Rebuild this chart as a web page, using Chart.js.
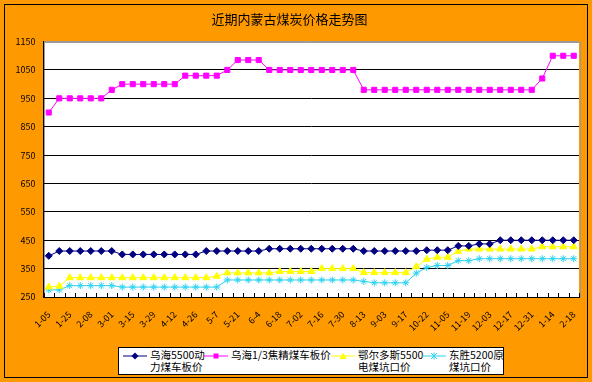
<!DOCTYPE html>
<html><head><meta charset="utf-8">
<script src="https://cdn.jsdelivr.net/npm/chart.js@4.4.1/dist/chart.umd.min.js"></script>
<style>
html,body{margin:0;padding:0;background:#FF9900;}
#wrap{position:relative;width:592px;height:382px;background:#FF9900;overflow:hidden;}
#c{position:absolute;left:0;top:0;}
#frame{position:absolute;left:4px;top:4px;width:584px;height:374px;border:1px solid #000;box-sizing:border-box;pointer-events:none;}
#legend{position:absolute;left:118px;top:347px;width:386px;height:28px;background:#fff;border:1px solid #000;box-sizing:border-box;font-family:"Noto Sans CJK SC","DejaVu Sans",sans-serif;font-size:10.5px;line-height:12px;color:#000;}
#legend svg{position:absolute;top:3px;}
#legend .t{position:absolute;top:1px;white-space:nowrap;}
</style></head>
<body><div id="wrap">
<canvas id="c" width="592" height="382"></canvas>
<div id="frame"></div>
<div id="legend">
 <svg style="left:4px" width="24" height="10"><line x1="0" y1="5" x2="24" y2="5" stroke="#000080" stroke-width="1"/><polygon points="12,1.5 15.5,5 12,8.5 8.5,5" fill="#000080"/></svg>
 <div class="t" style="left:31px">乌海5500动<br>力煤车板价</div>
 <svg style="left:85px" width="24" height="10"><line x1="0" y1="5" x2="24" y2="5" stroke="#FF00FF" stroke-width="1"/><rect x="9.5" y="2.5" width="5" height="5" fill="#FF00FF"/></svg>
 <div class="t" style="left:112px">乌海1/3焦精煤车板价</div>
 <svg style="left:212px" width="24" height="10"><line x1="0" y1="5" x2="24" y2="5" stroke="#FFFF00" stroke-width="1"/><polygon points="12,1.5 15.5,8 8.5,8" fill="#FFFF00"/></svg>
 <div class="t" style="left:239px">鄂尔多斯5500<br>电煤坑口价</div>
 <svg style="left:303px" width="24" height="10"><line x1="0" y1="5" x2="24" y2="5" stroke="#2ED3F0" stroke-width="1"/><path d="M9,2 L15,8 M15,2 L9,8 M12,1.5 L12,8.5" stroke="#2ED3F0" stroke-width="1"/></svg>
 <div class="t" style="left:330px">东胜5200原<br>煤坑口价</div>
</div>
</div>
<script>
const tickLabels = ["1-05","1-25","2-08","3-01","3-15","3-29","4-12","4-26","5-7","5-21","6-4","6-18","7-02","7-16","7-30","8-13","9-03","9-17","10-22","11-05","11-19","12-03","12-17","12-31","1-14","2-18"];

const wuhai5500 = [395,412,412,412,412,412,412,400,400,400,400,400,400,400,400,412,412,412,412,412,412,420,420,420,420,420,420,420,420,420,412,412,412,412,412,412,415,415,415,430,430,437,437,450,450,450,450,450,450,450,450];
const wuhaiCoking = [900,950,950,950,950,950,980,1000,1000,1000,1000,1000,1000,1030,1030,1030,1030,1050,1085,1085,1085,1050,1050,1050,1050,1050,1050,1050,1050,1050,980,980,980,980,980,980,980,980,980,980,980,980,980,980,980,980,980,1020,1100,1100,1100];
const ordos5500 = [285,288,318,318,318,318,318,318,318,318,318,318,318,318,318,318,323,335,335,335,335,335,340,340,340,340,350,350,350,350,336,336,336,336,336,357,383,390,390,411,419,419,419,419,419,419,419,427,427,427,427];
const dongsheng5200 = [275,275,290,290,290,290,290,285,285,285,285,285,285,285,285,285,285,310,310,310,310,310,310,310,310,310,310,310,310,310,305,300,300,300,300,334,354,361,361,378,378,385,385,385,385,385,385,385,385,385,385];

const seriesNames = ["乌海5500动力煤车板价","乌海1/3焦精煤车板价","鄂尔多斯5500电煤坑口价","东胜5200原煤坑口价"];

// categories: a labelled date every second week
const categories = [];
tickLabels.forEach((t,i)=>{ if(i>0) categories.push(""); categories.push(t); });

const F = '"Noto Sans CJK SC","DejaVu Sans",sans-serif';

const plotBg = {
  id:'plotBg',
  beforeDraw(chart){
    const {ctx, chartArea:a} = chart;
    ctx.save();
    ctx.fillStyle = '#FFFFFF';
    ctx.fillRect(a.left, a.top, a.right-a.left, a.bottom-a.top);
    ctx.strokeStyle = '#9a9a9a';
    ctx.lineWidth = 1;
    ctx.strokeRect(Math.round(a.left)+0.5, Math.round(a.top)+0.5, Math.round(a.right-a.left), Math.round(a.bottom-a.top));
    ctx.restore();
  },
  afterDraw(chart){
    const {ctx, chartArea:a} = chart;
    const xs = chart.scales.x;
    const n = categories.length;
    const step = (xs.getPixelForValue(1) - xs.getPixelForValue(0));
    ctx.save();
    ctx.strokeStyle = '#000';
    ctx.lineWidth = 1;
    ctx.beginPath();
    for(let i=0;i<=n;i++){
      const x = Math.round(xs.getPixelForValue(0) - step/2 + i*step)+0.5;
      ctx.moveTo(x, a.bottom);
      ctx.lineTo(x, a.bottom-4);
    }
    ctx.stroke();
    ctx.restore();
  }
};

function ds(label, data, color, style, r){
  return {label, data, borderColor:color, backgroundColor:color, borderWidth:1,
    pointStyle:style, pointRadius:r, pointBorderWidth:1, pointBorderColor:color, pointBackgroundColor:color,
    tension:0, fill:false};
}

new Chart(document.getElementById('c'), {
  type:'line',
  data:{
    labels: categories,
    datasets:[
      ds(seriesNames[0], wuhai5500, '#000080', 'rectRot', 3.5),
      ds(seriesNames[1], wuhaiCoking, '#FF00FF', 'rect', 3.6),
      ds(seriesNames[2], ordos5500, '#FFFF00', 'triangle', 4),
      ds(seriesNames[3], dongsheng5200, '#2ED3F0', 'star', 3.5)
    ]
  },
  options:{
    responsive:false, animation:false, devicePixelRatio:1,
    layout:{padding:{left:0,right:13,top:0,bottom:0}},
    plugins:{
      legend:{display:false},
      tooltip:{enabled:false},
      title:{display:true, text:'近期内蒙古煤炭价格走势图', color:'#000',
        font:{family:F, size:13, weight:'normal'}, padding:{top:11,bottom:15}}
    },
    scales:{
      x:{
        offset:true,
        grid:{display:false},
        border:{display:true, color:'#000', width:1},
        ticks:{autoSkip:false, maxRotation:45, minRotation:45, color:'#000',
          font:{family:F, size:9}, padding:4,
          callback:(v,i)=>categories[i]},
        afterFit:s=>{ s.height = 85; }
      },
      y:{
        min:250, max:1150,
        ticks:{stepSize:100, color:'#000', font:{family:F, size:9}, padding:8,
          callback:v=>String(v)},
        grid:{color:c=> (c.tick && c.tick.value===1150) ? '#9a9a9a' : '#000', drawTicks:false, lineWidth:1},
        border:{display:true, color:'#000', width:1},
        afterFit:s=>{ s.width = 43.5; }
      }
    }
  },
  plugins:[plotBg]
});
</script>
</body></html>
